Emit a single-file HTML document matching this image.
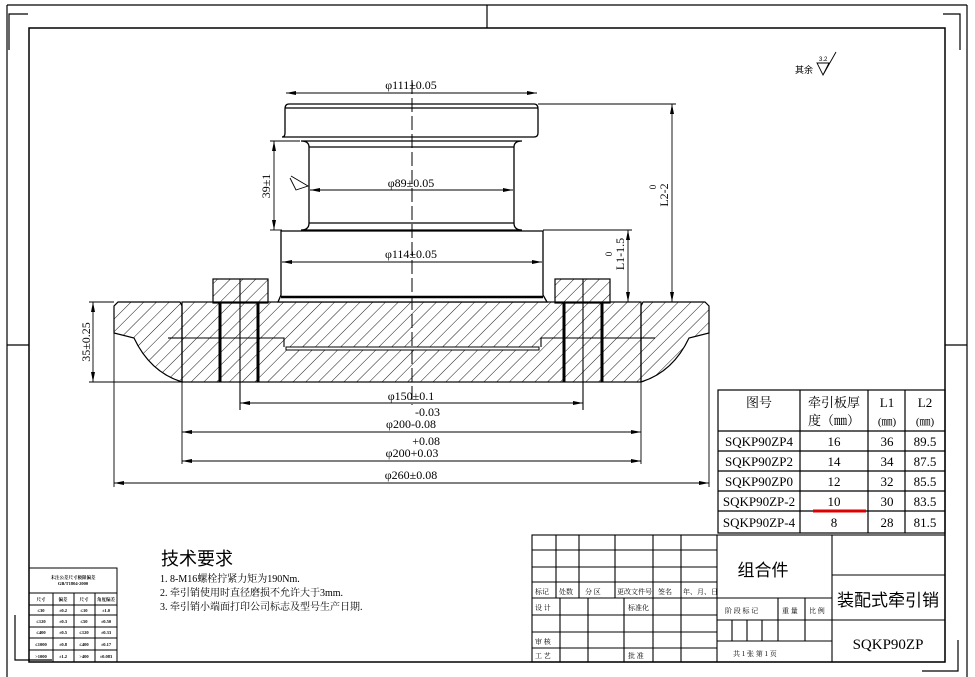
<!DOCTYPE html>
<html><head><meta charset="utf-8"><style>
html,body{margin:0;padding:0;background:#fff}
svg{display:block}
text{font-family:"Liberation Serif","Noto Serif CJK SC","Noto Sans CJK SC",serif;fill:#000}
.c{font-family:"Liberation Sans","Noto Sans CJK SC",sans-serif}
</style></head><body>
<svg width="975" height="677" viewBox="0 0 975 677" xmlns="http://www.w3.org/2000/svg">
<defs>
<pattern id="h" patternUnits="userSpaceOnUse" width="9" height="9" patternTransform="rotate(45)">
<line x1="0" y1="0" x2="0" y2="9" stroke="#000" stroke-width="0.9"/>
</pattern>
<marker id="a" markerWidth="10" markerHeight="6" refX="10" refY="3" orient="auto-start-reverse" markerUnits="userSpaceOnUse"><path d="M0,1 L10,3 L0,5 Z" fill="#000"/></marker>
</defs>
<g fill="none" stroke="#000" stroke-width="1.2">
<line x1="7" y1="5" x2="967" y2="5"/>
<line x1="7" y1="5" x2="7" y2="677"/>
<line x1="967" y1="5" x2="967" y2="677"/>
<rect x="29" y="28" width="916" height="634" stroke-width="1.5"/>
<line x1="487" y1="5" x2="487" y2="28"/>
<line x1="7" y1="345" x2="29" y2="345"/>
<line x1="945" y1="345" x2="967" y2="345"/>
<path d="M9,50 V14 H28"/>
<path d="M960,50 V14 H943"/>
<path d="M15,615 V660 H52"/>
<path d="M958,640 V671 H922"/>
</g>
<g stroke="#000" stroke-width="1.2">
<rect x="213" y="279" width="55" height="24" fill="url(#h)"/>
<rect x="555" y="279" width="55" height="24" fill="url(#h)"/>
<path d="M118,302 H180 L182,306 V382 Q150,372 134,338 L114,333 V306 Z" fill="url(#h)"/>
<path d="M705,302 H643 L641,306 V382 Q673,372 689,338 L709,333 V306 Z" fill="url(#h)"/>
<rect x="182" y="302" width="459" height="80" fill="url(#h)"/>
<path d="M286,347 H539 V350 H286 Z" fill="#fff" stroke-width="1"/>
</g>
<g fill="none" stroke="#000" stroke-width="1.1">
<path d="M182,338 H284 V347 M541,347 V338 H641"/>
<line x1="168" y1="338" x2="182" y2="338"/>
<line x1="641" y1="338" x2="655" y2="338"/>
<line x1="240" y1="279" x2="240" y2="410"/>
<line x1="583" y1="279" x2="583" y2="410"/>
</g>
<g stroke="#000" stroke-width="3">
<line x1="220" y1="302" x2="220" y2="382"/>
<line x1="258" y1="302" x2="258" y2="382"/>
<line x1="564" y1="302" x2="564" y2="382"/>
<line x1="602" y1="302" x2="602" y2="382"/>
</g>
<g fill="#fff" stroke="#000" stroke-width="1.3">
<path d="M289,104 H534 Q538,104 538,109 V133 Q538,137 534,137 H282 Q285,137 285,133 V109 Q285,104 289,104 Z"/>
<path d="M309,147 Q309,141 301,141 H522 Q514,141 514,147 V223 Q514,230 522,230 H301 Q309,230 309,223 Z"/>
<path d="M281,231 H543 V295 L547,302 H278 L281,295 Z"/>
<line x1="285" y1="108" x2="538" y2="108"/>
<line x1="309" y1="147" x2="514" y2="147"/>
<line x1="309" y1="223" x2="514" y2="223"/>
<line x1="281" y1="297" x2="543" y2="297" stroke-width="2.5"/>
</g>
<line x1="412" y1="80" x2="412" y2="405" stroke="#000" stroke-width="1" stroke-dasharray="14,4"/>
<g stroke="#000" stroke-width="0.9" fill="none">
<line x1="286" y1="93" x2="537" y2="93" marker-start="url(#a)" marker-end="url(#a)"/>
<line x1="310" y1="190" x2="513" y2="190" marker-start="url(#a)" marker-end="url(#a)"/>
<line x1="282" y1="262" x2="542" y2="262" marker-start="url(#a)" marker-end="url(#a)"/>
<line x1="274" y1="141" x2="274" y2="230" marker-start="url(#a)" marker-end="url(#a)"/>
<line x1="270" y1="141" x2="300" y2="141"/><line x1="270" y1="230" x2="282" y2="230"/>
<line x1="538" y1="104" x2="676" y2="104"/>
<line x1="672" y1="104" x2="672" y2="302" marker-start="url(#a)" marker-end="url(#a)"/>
<line x1="543" y1="230" x2="632" y2="230"/>
<line x1="628" y1="230" x2="628" y2="302" marker-start="url(#a)" marker-end="url(#a)"/>
<line x1="89" y1="302" x2="114" y2="302"/><line x1="89" y1="382" x2="185" y2="382"/>
<line x1="93" y1="302" x2="93" y2="382" marker-start="url(#a)" marker-end="url(#a)"/>
<line x1="114" y1="333" x2="114" y2="487"/><line x1="709" y1="333" x2="709" y2="487"/>
<line x1="182" y1="382" x2="182" y2="464"/><line x1="641" y1="382" x2="641" y2="464"/>
<line x1="240" y1="403" x2="583" y2="403" marker-start="url(#a)" marker-end="url(#a)"/>
<line x1="182" y1="432" x2="641" y2="432" marker-start="url(#a)" marker-end="url(#a)"/>
<line x1="182" y1="461" x2="641" y2="461" marker-start="url(#a)" marker-end="url(#a)"/>
<line x1="114" y1="483" x2="709" y2="483" marker-start="url(#a)" marker-end="url(#a)"/>
<path d="M291,176 L308,186 L296,190 L290,178"/>
<path d="M817,63 H829 L823,75 Z M823,75 L836,52"/>
</g>
<g font-size="12">
<text x="411" y="89" text-anchor="middle">φ111±0.05</text>
<text x="411" y="187" text-anchor="middle">φ89±0.05</text>
<text x="411" y="258" text-anchor="middle">φ114±0.05</text>
<text x="411" y="400" text-anchor="middle">φ150±0.1</text>
<text x="440" y="416" text-anchor="end">-0.03</text>
<text x="411" y="428" text-anchor="middle">φ200-0.08</text>
<text x="440" y="445" text-anchor="end">+0.08</text>
<text x="412" y="457" text-anchor="middle">φ200+0.03</text>
<text x="411" y="479" text-anchor="middle">φ260±0.08</text>
<text transform="translate(270,186) rotate(-90)" text-anchor="middle">39±1</text>
<text transform="translate(90,342) rotate(-90)" text-anchor="middle">35±0.25</text>
<text transform="translate(668,195) rotate(-90)" text-anchor="middle">L2-2</text>
<text transform="translate(656,187) rotate(-90)" text-anchor="middle" font-size="9">0</text>
<text transform="translate(624,254) rotate(-90)" text-anchor="middle">L1-1.5</text>
<text transform="translate(612,254) rotate(-90)" text-anchor="middle" font-size="9">0</text>
</g>
<text x="795" y="73" font-size="9" class="c">其余</text>
<text x="819" y="61" font-size="6" class="c">3.2</text>
<g stroke="#000" stroke-width="1.2" fill="none">
<rect x="718" y="390" width="227" height="143"/>
<line x1="800" y1="390" x2="800" y2="533"/><line x1="868" y1="390" x2="868" y2="533"/><line x1="905" y1="390" x2="905" y2="533"/>
<line x1="718" y1="431" x2="945" y2="431"/><line x1="718" y1="451" x2="945" y2="451"/><line x1="718" y1="471" x2="945" y2="471"/><line x1="718" y1="491" x2="945" y2="491"/><line x1="718" y1="511" x2="945" y2="511"/>
</g>
<line x1="813" y1="511" x2="866" y2="511" stroke="#d00" stroke-width="3"/>
<g font-size="13" text-anchor="middle">
<text x="759" y="407">图号</text><text x="834" y="407">牵引板厚</text><text x="834" y="425">度（㎜）</text>
<text x="887" y="407">L1</text><text x="887" y="425" font-size="11">(㎜)</text>
<text x="925" y="407">L2</text><text x="925" y="425" font-size="11">(㎜)</text>
<text x="759" y="446">SQKP90ZP4</text><text x="834" y="446">16</text><text x="887" y="446">36</text><text x="925" y="446">89.5</text>
<text x="759" y="466">SQKP90ZP2</text><text x="834" y="466">14</text><text x="887" y="466">34</text><text x="925" y="466">87.5</text>
<text x="759" y="486">SQKP90ZP0</text><text x="834" y="486">12</text><text x="887" y="486">32</text><text x="925" y="486">85.5</text>
<text x="759" y="506">SQKP90ZP-2</text><text x="834" y="506">10</text><text x="887" y="506">30</text><text x="925" y="506">83.5</text>
<text x="759" y="527">SQKP90ZP-4</text><text x="834" y="527">8</text><text x="887" y="527">28</text><text x="925" y="527">81.5</text>
</g>
<g stroke="#000" stroke-width="1.1" fill="none">
<rect x="532" y="535" width="413" height="127"/>
<line x1="717" y1="535" x2="717" y2="662"/><line x1="832" y1="535" x2="832" y2="662"/>
<line x1="532" y1="550" x2="717" y2="550"/><line x1="532" y1="567" x2="717" y2="567"/><line x1="532" y1="582" x2="717" y2="582"/><line x1="532" y1="598" x2="717" y2="598"/><line x1="532" y1="615" x2="717" y2="615"/><line x1="532" y1="632" x2="717" y2="632"/><line x1="532" y1="648" x2="717" y2="648"/>
<line x1="556" y1="535" x2="556" y2="598"/><line x1="579" y1="535" x2="579" y2="598"/><line x1="615" y1="535" x2="615" y2="598"/><line x1="653" y1="535" x2="653" y2="662"/><line x1="681" y1="535" x2="681" y2="662"/>
<line x1="560" y1="598" x2="560" y2="662"/><line x1="588" y1="598" x2="588" y2="662"/><line x1="624" y1="598" x2="624" y2="662"/>
<line x1="717" y1="598" x2="832" y2="598"/><line x1="717" y1="620" x2="832" y2="620"/><line x1="717" y1="641" x2="832" y2="641"/>
<line x1="778" y1="598" x2="778" y2="641"/><line x1="805" y1="598" x2="805" y2="641"/>
<line x1="732" y1="620" x2="732" y2="641"/><line x1="747" y1="620" x2="747" y2="641"/><line x1="762" y1="620" x2="762" y2="641"/>
<line x1="832" y1="575" x2="945" y2="575"/><line x1="832" y1="620" x2="945" y2="620"/>
</g>
<g font-size="7" class="c">
<text x="535" y="594">标记</text><text x="559" y="594">处数</text><text x="585" y="594">分 区</text><text x="617" y="594">更改文件号</text><text x="658" y="594">签名</text><text x="683" y="594">年、月、日</text>
<text x="535" y="610">设 计</text><text x="628" y="610">标准化</text>
<text x="535" y="644">审 核</text><text x="535" y="658">工 艺</text><text x="628" y="658">批 准</text>
<text x="725" y="613">阶 段 标 记</text><text x="782" y="613">重 量</text><text x="809" y="613">比 例</text>
<text x="733" y="656">共 1 张   第 1 页</text>
</g>
<text x="763" y="576" font-size="17" text-anchor="middle" class="c">组合件</text>
<text x="888" y="606" font-size="17" text-anchor="middle" class="c">装配式牵引销</text>
<text x="888" y="649" font-size="15" text-anchor="middle">SQKP90ZP</text>
<text x="161" y="565" font-size="18" class="c">技术要求</text>
<g font-size="10" class="c">
<text x="160" y="582">1. 8-M16螺栓拧紧力矩为190Nm.</text>
<text x="160" y="596">2. 牵引销使用时直径磨损不允许大于3mm.</text>
<text x="160" y="610">3. 牵引销小端面打印公司标志及型号生产日期.</text>
</g>
<g stroke="#000" stroke-width="1" fill="none">
<rect x="29" y="568" width="88" height="94"/>
<line x1="29" y1="593" x2="117" y2="593"/><line x1="29" y1="605" x2="117" y2="605"/><line x1="29" y1="615" x2="117" y2="615"/><line x1="29" y1="627" x2="117" y2="627"/><line x1="29" y1="638" x2="117" y2="638"/><line x1="29" y1="650" x2="117" y2="650"/>
<line x1="53" y1="593" x2="53" y2="662"/><line x1="74" y1="593" x2="74" y2="662"/><line x1="95" y1="593" x2="95" y2="662"/>
</g>
<g font-size="4.5" text-anchor="middle" class="c" font-weight="bold">
<text x="73" y="579">未注公差尺寸极限偏差</text><text x="73" y="585">GB/T1804-2000</text>
<text x="41" y="601">尺寸</text><text x="63" y="601">偏差</text><text x="84" y="601">尺寸</text><text x="106" y="601">角度偏差</text>
<text x="41" y="612">≤30</text><text x="63" y="612">±0.2</text><text x="84" y="612">≤10</text><text x="106" y="612">±1.0</text>
<text x="41" y="623">≤120</text><text x="63" y="623">±0.3</text><text x="84" y="623">≤50</text><text x="106" y="623">±0.50</text>
<text x="41" y="634">≤400</text><text x="63" y="634">±0.5</text><text x="84" y="634">≤120</text><text x="106" y="634">±0.33</text>
<text x="41" y="646">≤1000</text><text x="63" y="646">±0.8</text><text x="84" y="646">≤400</text><text x="106" y="646">±0.17</text>
<text x="41" y="658">&gt;1000</text><text x="63" y="658">±1.2</text><text x="84" y="658">&gt;400</text><text x="106" y="658">±0.083</text>
</g>
</svg>
</body></html>
